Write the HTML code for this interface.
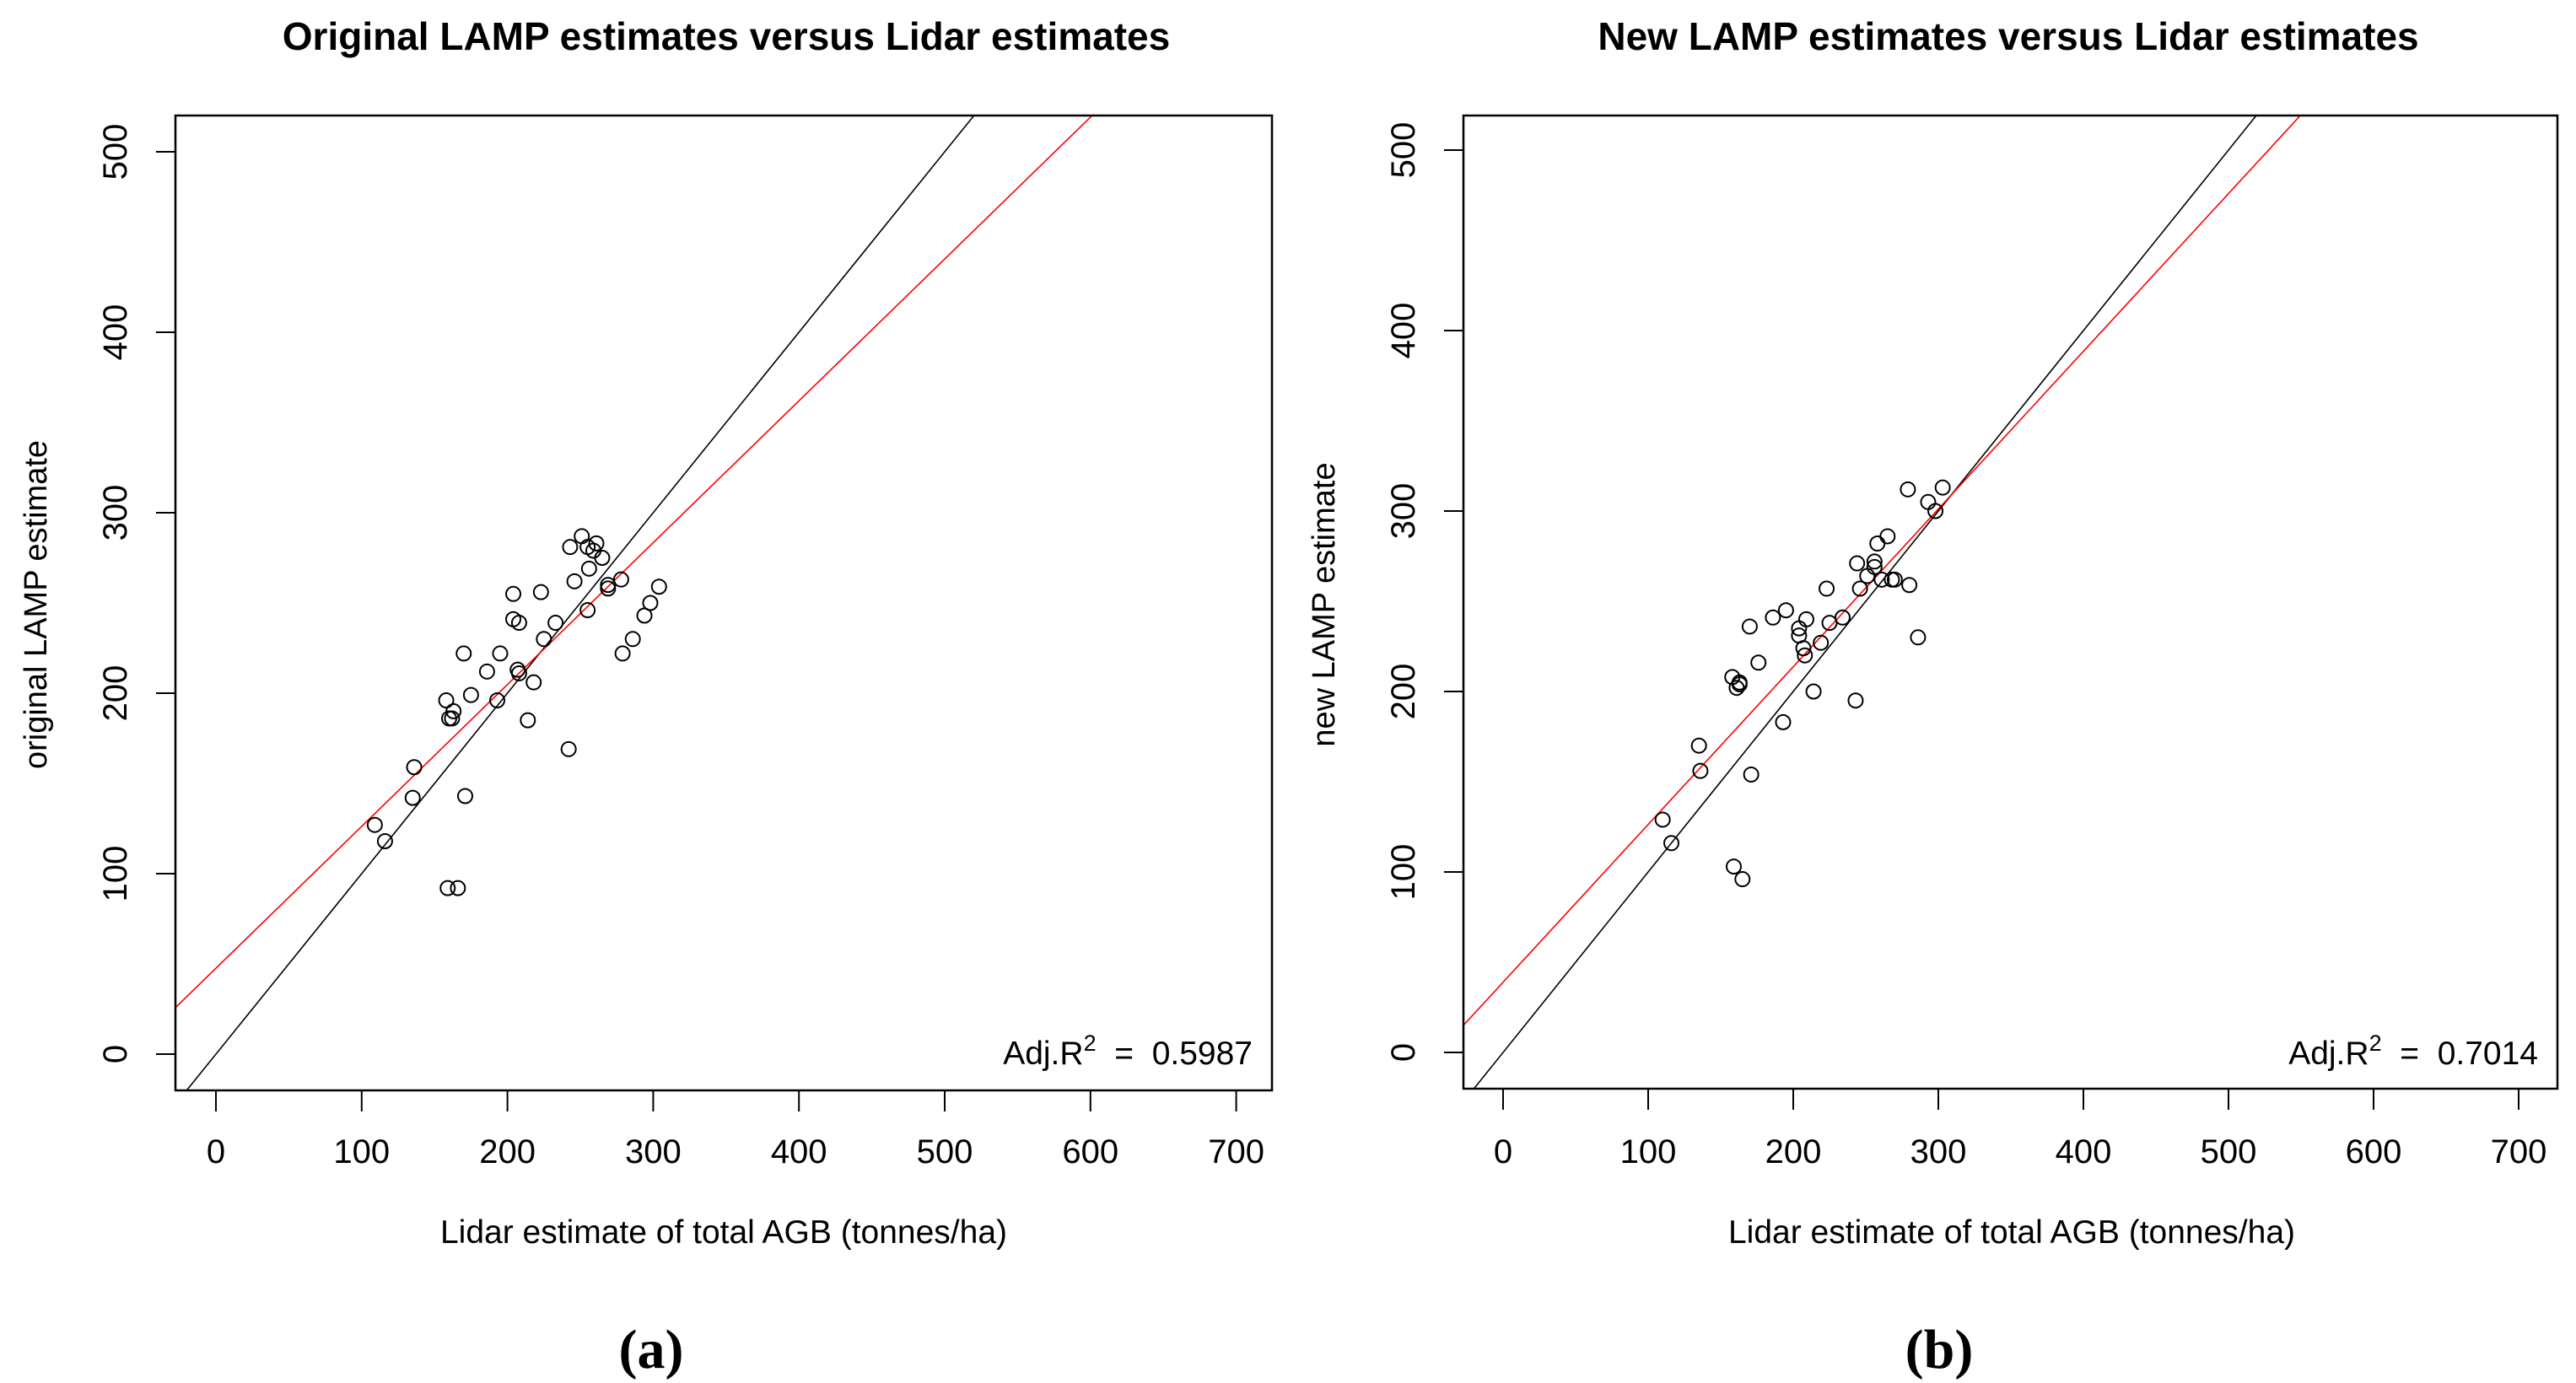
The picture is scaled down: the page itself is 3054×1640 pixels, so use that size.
<!DOCTYPE html>
<html><head><meta charset="utf-8">
<style>
html,body{margin:0;padding:0;background:#fff;}
svg{display:block;font-family:"Liberation Sans",Arial,sans-serif;}
</style></head>
<body>
<svg id="fig" width="3054" height="1640" viewBox="0 0 3054 1640" xmlns="http://www.w3.org/2000/svg">
<g id="pa"></g>
<g id="pb"></g>
</svg>
<script>
const xTicks = [0,100,200,300,400,500,600,700];
const yTicks = [0,100,200,300,400,500];
const titles = ["Original LAMP estimates versus Lidar estimates","New LAMP estimates versus Lidar estimates"];
const yLabels = ["original LAMP estimate","new LAMP estimate"];
const xLabel = "Lidar estimate of total AGB (tonnes/ha)";
const r2Values = ["0.5987","0.7014"];
const panelTags = ["(a)","(b)"];
const fitIntercepts = [47.6, 38.9];
const fitSlopes = [0.786, 0.874];
const lidarA = [109,116,135,136,158,160,163,162,159,166,170,171,175,186,193,195,204,204,208,207,208,214,218,223,225,233,242,243,246,251,255,255,256,259,261,265,269,269,278,279,286,294,298,304];
const lampA  = [127,118,142,159,196,186,190,186,92,92,222,143,199,212,196,222,255,241,239,213,211,185,206,256,230,239,169,281,262,287,281,246,269,279,283,275,258,260,263,222,230,243,250,259];
const lidarB = [110,116,135,136,158,161,163,163,159,165,170,171,176,186,193,195,204,204,209,207,208,214,219,223,225,234,243,244,246,251,256,256,258,261,265,268,270,279,280,286,293,298,303];
const lampB  = [129,116,170,156,208,202,205,204,103,96,236,154,216,241,183,245,235,231,240,224,220,200,227,257,238,241,195,271,257,264,272,269,282,262,286,262,262,312,259,230,305,300,313];

const NS="http://www.w3.org/2000/svg";
function mk(parent,tag,attrs,text){const e=document.createElementNS(NS,tag);for(const k in attrs)e.setAttribute(k,attrs[k]);if(text!==undefined)e.textContent=text;parent.appendChild(e);return e;}

const panels=[
 {g:document.getElementById('pa'),off:0,bx0:208,bx1:1508,by0:137,by1:1293,x0:256,xs:1.728,y0:1250,ys:2.14,xsData:lidarA,ysData:lampA,tx:861},
 {g:document.getElementById('pb'),off:1527,bx0:1735,bx1:3032,by0:137,by1:1291,x0:1782,xs:1.72,y0:1248,ys:2.14,xsData:lidarB,ysData:lampB,tx:2381}
];
panels.forEach((p,i)=>{
 const g=p.g;
 const X=v=>p.x0+v*p.xs, Y=v=>p.y0-v*p.ys;
 const t=mk(g,'text',{x:p.tx,y:59,'text-anchor':'middle','font-size':46,'font-weight':'bold'},titles[i]);
 
 
 const clip=mk(g,'clipPath',{id:'c'+i});
 mk(clip,'rect',{x:p.bx0,y:p.by0,width:p.bx1-p.bx0,height:p.by1-p.by0});
 const plot=mk(g,'g',{'clip-path':'url(#c'+i+')'});
 
 
 const xa=-40,xb=760;
 const l1=mk(plot,'line',{x1:X(xa),y1:Y(xa),x2:X(xb),y2:Y(xb),stroke:'#000','stroke-width':1.6});
 
 
 const l2=mk(plot,'line',{x1:X(xa),y1:Y(fitIntercepts[i]+fitSlopes[i]*xa),x2:X(xb),y2:Y(fitIntercepts[i]+fitSlopes[i]*xb),stroke:'#ff0000','stroke-width':1.6});
 
 
 p.xsData.forEach((v,k)=>{
  const c=mk(plot,'circle',{cx:X(v),cy:Y(p.ysData[k]),r:8.5,fill:'none',stroke:'#000','stroke-width':2});
  
  
 });
 const box=mk(g,'rect',{x:p.bx0,y:p.by0,width:p.bx1-p.bx0,height:p.by1-p.by0,fill:'none',stroke:'#000','stroke-width':2.5});
 
 
 xTicks.forEach(v=>{
  const tk=mk(g,'line',{x1:X(v),y1:p.by1,x2:X(v),y2:p.by1+25,stroke:'#000','stroke-width':2});
  
  
  const tl=mk(g,'text',{x:X(v),y:1379,'text-anchor':'middle','font-size':40},String(v));
  
  
 });
 yTicks.forEach(v=>{
  const tk=mk(g,'line',{x1:p.bx0-23,y1:Y(v),x2:p.bx0,y2:Y(v),stroke:'#000','stroke-width':2});
  
  
  const xx=p.off+150;
  const tl=mk(g,'text',{x:xx,y:Y(v),'text-anchor':'middle','font-size':40,transform:`rotate(-90 ${xx} ${Y(v)})`},String(v));
  
  
 });
 const xl=mk(g,'text',{x:p.off+858,y:1474,'text-anchor':'middle','font-size':39},xLabel);
 
 
 const yx=p.off+55, yy=717;
 const yl=mk(g,'text',{x:yx,y:yy,'text-anchor':'middle','font-size':38,transform:`rotate(-90 ${yx} ${yy})`},yLabels[i]);
 
 
 const r2=mk(g,'text',{x:p.bx1-23,y:1262,'text-anchor':'end','font-size':39});
 
 
 mk(r2,'tspan',{},'Adj.R');
 mk(r2,'tspan',{dy:-16,'font-size':27},'2');
 mk(r2,'tspan',{dy:16},'  =  '+r2Values[i]);
 r2.setAttribute('style','white-space:pre');
 const tag=mk(g,'text',{x:p.off+772,y:1622,'text-anchor':'middle','font-size':66,'font-weight':'bold','font-family':'"Liberation Serif",serif'},panelTags[i]);
 
 
});
</script>
</body></html>
